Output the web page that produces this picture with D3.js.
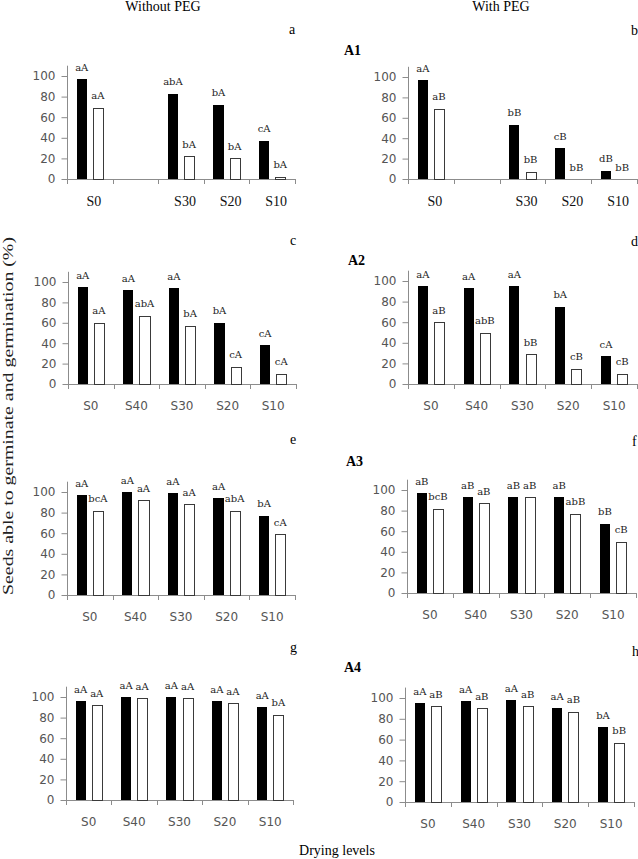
<!DOCTYPE html>
<html>
<head>
<meta charset="utf-8">
<script src="https://cdn.jsdelivr.net/npm/d3@7"></script>
<style>
  body { margin: 0; background: #fff; }
  svg { display: block; }
</style>
</head>
<body>
<div id="chart"></div>
<script>
// drying levels (x categories)
const categories = ['S0', 'S40', 'S30', 'S20', 'S10'];
const yTicks = [0, 20, 40, 60, 80, 100];

// black bars = seeds able to germinate, white bars = germination (%)
// A1 (no S40 treatment)
const a1NoPegBlack = [97, null, 83, 72, 37];
const a1NoPegWhite = [69, null, 22, 20, 2];
const a1PegBlack = [97, null, 53, 30, 8];
const a1PegWhite = [69, null, 7, 0, 0];
// A2
const a2NoPegBlack = [95, 92, 94, 60, 38];
const a2NoPegWhite = [60, 67, 57, 17, 10];
const a2PegBlack = [95, 93, 95, 75, 27];
const a2PegWhite = [60, 50, 29, 15, 10];
// A3
const a3NoPegBlack = [97, 100, 99, 94, 77];
const a3NoPegWhite = [82, 92, 88, 82, 59];
const a3PegBlack = [97, 93, 93, 93, 67];
const a3PegWhite = [82, 87, 93, 77, 50];
// A4
const a4NoPegBlack = [96, 100, 100, 96, 90];
const a4NoPegWhite = [92, 99, 99, 94, 83];
const a4PegBlack = [95, 97, 98, 90, 72];
const a4PegWhite = [92, 90, 92, 87, 57];

// significance letters above bars
const a1NoPegBlackLbl = ['aA', null, 'abA', 'bA', 'cA'];
const a1NoPegWhiteLbl = ['aA', null, 'bA', 'bA', 'bA'];
const a1PegBlackLbl = ['aA', null, 'bB', 'cB', 'dB'];
const a1PegWhiteLbl = ['aB', null, 'bB', 'bB', 'bB'];
const a2NoPegBlackLbl = ['aA', 'aA', 'aA', 'bA', 'cA'];
const a2NoPegWhiteLbl = ['aA', 'abA', 'bA', 'cA', 'cA'];
const a2PegBlackLbl = ['aA', 'aA', 'aA', 'bA', 'cA'];
const a2PegWhiteLbl = ['aB', 'abB', 'bB', 'cB', 'cB'];
const a3NoPegBlackLbl = ['aA', 'aA', 'aA', 'aA', 'bA'];
const a3NoPegWhiteLbl = ['bcA', 'aA', 'aA', 'abA', 'cA'];
const a3PegBlackLbl = ['aB', 'aB', 'aB', 'aB', 'bB'];
const a3PegWhiteLbl = ['bcB', 'aB', 'aB', 'abB', 'cB'];
const a4NoPegBlackLbl = ['aA', 'aA', 'aA', 'aA', 'aA'];
const a4NoPegWhiteLbl = ['aA', 'aA', 'aA', 'aA', 'bA'];
const a4PegBlackLbl = ['aA', 'aA', 'aA', 'aA', 'bA'];
const a4PegWhiteLbl = ['aB', 'aB', 'aB', 'aB', 'bB'];

const width = 638, height = 859;
const serif = '"Liberation Serif", "Times New Roman", serif';
const sans = '"DejaVu Sans", Verdana, sans-serif';
const labelFont = '"DejaVu Serif", serif';

const svg = d3.select('#chart')
    .append('svg')
    .attr('width', width)
    .attr('height', height);

// panel layout
const panels = [
    { letter: 'a', lx: 289, ly: 34, x0: 67, x1: 295, y0: 179, y100: 76, black: a1NoPegBlack, white: a1NoPegWhite, bl: a1NoPegBlackLbl, wl: a1NoPegWhiteLbl, serifTicks: true },
    { letter: 'b', lx: 631, ly: 35, x0: 408, x1: 637, y0: 179, y100: 77, black: a1PegBlack, white: a1PegWhite, bl: a1PegBlackLbl, wl: a1PegWhiteLbl, serifTicks: true, tag: 'A1', tx: 344, ty: 55 },
    { letter: 'c', lx: 290, ly: 245, x0: 68, x1: 296, y0: 384, y100: 282, black: a2NoPegBlack, white: a2NoPegWhite, bl: a2NoPegBlackLbl, wl: a2NoPegWhiteLbl },
    { letter: 'd', lx: 631, ly: 246, x0: 408, x1: 637, y0: 384, y100: 281, black: a2PegBlack, white: a2PegWhite, bl: a2PegBlackLbl, wl: a2PegWhiteLbl, tag: 'A2', tx: 348, ty: 265 },
    { letter: 'e', lx: 290, ly: 444, x0: 67, x1: 295, y0: 595, y100: 492, black: a3NoPegBlack, white: a3NoPegWhite, bl: a3NoPegBlackLbl, wl: a3NoPegWhiteLbl },
    { letter: 'f', lx: 632, ly: 446, x0: 407, x1: 636, y0: 593, y100: 490, black: a3PegBlack, white: a3PegWhite, bl: a3PegBlackLbl, wl: a3PegWhiteLbl, tag: 'A3', tx: 346, ty: 466 },
    { letter: 'g', lx: 290, ly: 652, x0: 66, x1: 293, y0: 800, y100: 697, black: a4NoPegBlack, white: a4NoPegWhite, bl: a4NoPegBlackLbl, wl: a4NoPegWhiteLbl },
    { letter: 'h', lx: 632, ly: 656, x0: 405, x1: 634, y0: 802, y100: 698, black: a4PegBlack, white: a4PegWhite, bl: a4PegBlackLbl, wl: a4PegWhiteLbl, tag: 'A4', tx: 344, ty: 672 }
];

panels.forEach(drawPanel);

function drawPanel(p) {
    const x = d3.scaleBand().domain(categories).range([p.x0, p.x1]);
    const inner = d3.scaleBand()
        .domain(['black', 'white'])
        .range([0, x.bandwidth()])
        .paddingInner(0.375)
        .paddingOuter(0.6);
    const y = d3.scaleLinear().domain([0, 100]).range([p.y0, p.y100]);
    const g = svg.append('g');

    // y axis
    const yAxis = d3.axisLeft(y)
        .tickValues(yTicks)
        .tickSize(6)
        .tickSizeOuter(0)
        .tickPadding(6);
    const ya = g.append('g')
        .attr('transform', `translate(${p.x0 + 0.5},0)`)
        .call(yAxis);
    ya.select('.domain')
        .attr('d', `M0,${y(0)}V${y(110)}`)
        .attr('stroke', '#8c8c8c');
    ya.selectAll('.tick line').attr('stroke', '#8c8c8c');
    ya.selectAll('.tick text')
        .attr('font-family', sans)
        .attr('font-size', 12)
        .attr('fill', '#555');

    // x axis line and boundary ticks
    const xa = g.append('g').attr('stroke', '#8c8c8c').attr('shape-rendering', 'crispEdges');
    xa.append('line')
        .attr('x1', p.x0).attr('x2', p.x1)
        .attr('y1', y(0) + 0.5).attr('y2', y(0) + 0.5);
    const bounds = categories.map(c => x(c)).concat([x.range()[1]]);
    xa.selectAll('line.tk')
        .data(bounds)
        .join('line')
        .attr('class', 'tk')
        .attr('x1', d => Math.round(d) + 0.5).attr('x2', d => Math.round(d) + 0.5)
        .attr('y1', y(0)).attr('y2', y(0) + 5);

    // category labels
    g.selectAll('text.cat')
        .data(categories.filter((c, i) => p.black[i] !== null))
        .join('text')
        .attr('class', 'cat')
        .attr('x', d => x(d) + x.bandwidth() / 2 + (p.serifTicks ? 4 : 0))
        .attr('y', p.serifTicks ? 206 : y(0) + 26)
        .attr('text-anchor', 'middle')
        .attr('font-family', p.serifTicks ? serif : sans)
        .attr('font-size', p.serifTicks ? 14 : 12)
        .attr('fill', p.serifTicks ? '#111' : '#555')
        .text(d => d);

    // bars
    const series = [
        { key: 'black', vals: p.black, lbl: p.bl },
        { key: 'white', vals: p.white, lbl: p.wl }
    ];
    series.forEach(s => {
        const rows = categories.map((c, i) => ({ c, v: s.vals[i], l: s.lbl[i] }))
            .filter(d => d.v !== null);
        g.selectAll(null)
            .data(rows.filter(d => d.v > 0))
            .join('rect')
            .attr('x', d => x(d.c) + inner(s.key) + (s.key === 'white' ? 0.5 : 0))
            .attr('y', d => y(d.v) + (s.key === 'white' ? 0.5 : 0))
            .attr('width', inner.bandwidth())
            .attr('height', d => y(0) - y(d.v))
            .attr('fill', s.key === 'black' ? '#000' : '#fff')
            .attr('stroke', s.key === 'black' ? 'none' : '#3a3a3a')
            .attr('stroke-width', 1)
            .attr('shape-rendering', 'crispEdges');
        g.selectAll(null)
            .data(rows)
            .join('text')
            .attr('x', d => x(d.c) + inner(s.key) + inner.bandwidth() / 2)
            .attr('y', d => y(d.v) - 8.5)
            .attr('text-anchor', 'middle')
            .attr('font-family', labelFont)
            .attr('font-size', 10)
            .attr('fill', '#222')
            .text(d => d.l);
    });

    // panel letter
    svg.append('text')
        .attr('x', p.lx).attr('y', p.ly)
        .attr('font-family', serif)
        .attr('font-size', 14)
        .text(p.letter);

    if (p.tag) {
        svg.append('text')
            .attr('x', p.tx).attr('y', p.ty)
            .attr('font-family', serif)
            .attr('font-size', 14)
            .attr('font-weight', 'bold')
            .text(p.tag);
    }
}

// column titles
svg.append('text')
    .attr('x', 163).attr('y', 11)
    .attr('text-anchor', 'middle')
    .attr('font-family', serif)
    .attr('font-size', 14)
    .text('Without PEG');
svg.append('text')
    .attr('x', 501).attr('y', 11)
    .attr('text-anchor', 'middle')
    .attr('font-family', serif)
    .attr('font-size', 14)
    .text('With PEG');

// axis titles
svg.append('text')
    .attr('transform', 'translate(13,416) rotate(-90)')
    .attr('text-anchor', 'middle')
    .attr('font-family', serif)
    .attr('font-size', 15)
    .attr('fill', '#222')
    .attr('textLength', 358)
    .attr('lengthAdjust', 'spacingAndGlyphs')
    .text('Seeds able to germinate and germination (%)');
svg.append('text')
    .attr('x', 337).attr('y', 855)
    .attr('text-anchor', 'middle')
    .attr('font-family', serif)
    .attr('font-size', 14)
    .text('Drying levels');
</script>
</body>
</html>
